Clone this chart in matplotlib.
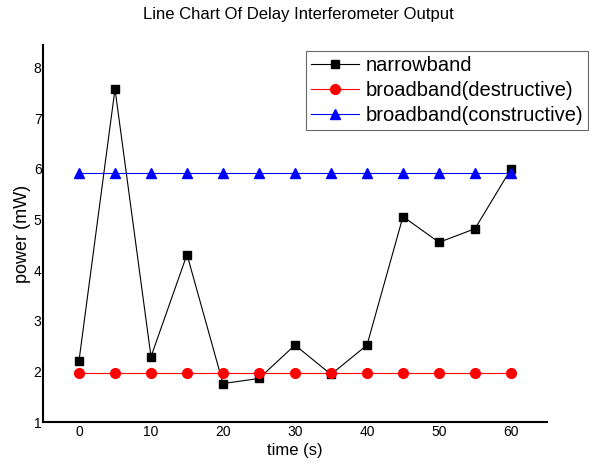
import matplotlib
matplotlib.use("Agg")
import matplotlib.pyplot as plt

plt.rcParams["font.family"] = ["Liberation Sans", "DejaVu Sans"]

# data
time_s = [0, 5, 10, 15, 20, 25, 30, 35, 40, 45, 50, 55, 60]
narrowband = [2.21, 7.58, 2.29, 4.31, 1.76, 1.86, 2.52, 1.94, 2.52, 5.06, 4.55, 4.82, 6.0]
destructive = [1.96] * 13
constructive = [5.92] * 13

fig = plt.figure(figsize=(5.97, 4.65), dpi=100)
ax = fig.add_axes([43 / 597, 1 - 422 / 465, 504 / 597, 377 / 465])

ax.plot(time_s, narrowband, color="black", lw=0.8, marker="s", ms=6, label="narrowband")
ax.plot(time_s, destructive, color="red", lw=0.8, marker="o", ms=7, label="broadband(destructive)")
ax.plot(time_s, constructive, color="blue", lw=0.8, marker="^", ms=7.5, label="broadband(constructive)")

ax.set_xlim(-5, 65)
ax.set_ylim(1, 8.45)
ax.set_xticks(range(0, 61, 10))
ax.set_yticks(range(1, 9))
ax.spines["top"].set_visible(False)
ax.spines["right"].set_visible(False)
ax.spines["left"].set_linewidth(1.5)
ax.spines["bottom"].set_linewidth(1.5)
ax.tick_params(length=0, labelsize=10)
ax.tick_params(axis="x", pad=2)
ax.tick_params(axis="y", pad=1)

ax.set_xlabel("time (s)", fontsize=12, labelpad=3)
ax.set_ylabel("power (mW)", fontsize=13, labelpad=2)
fig.text(0.5, 1 - 14 / 465, "Line Chart Of Delay Interferometer Output",
         ha="center", va="center", fontsize=12)

leg = ax.legend(loc="upper left", bbox_to_anchor=(306 / 597, 1 - 51 / 465),
                bbox_transform=fig.transFigure, fontsize=14.5, frameon=True,
                fancybox=False, edgecolor="#444444", borderpad=0.25,
                labelspacing=0.3, handlelength=2.4, handletextpad=0.3,
                borderaxespad=0)
leg.get_frame().set_linewidth(0.8)

fig.savefig("out.png", dpi=100)
